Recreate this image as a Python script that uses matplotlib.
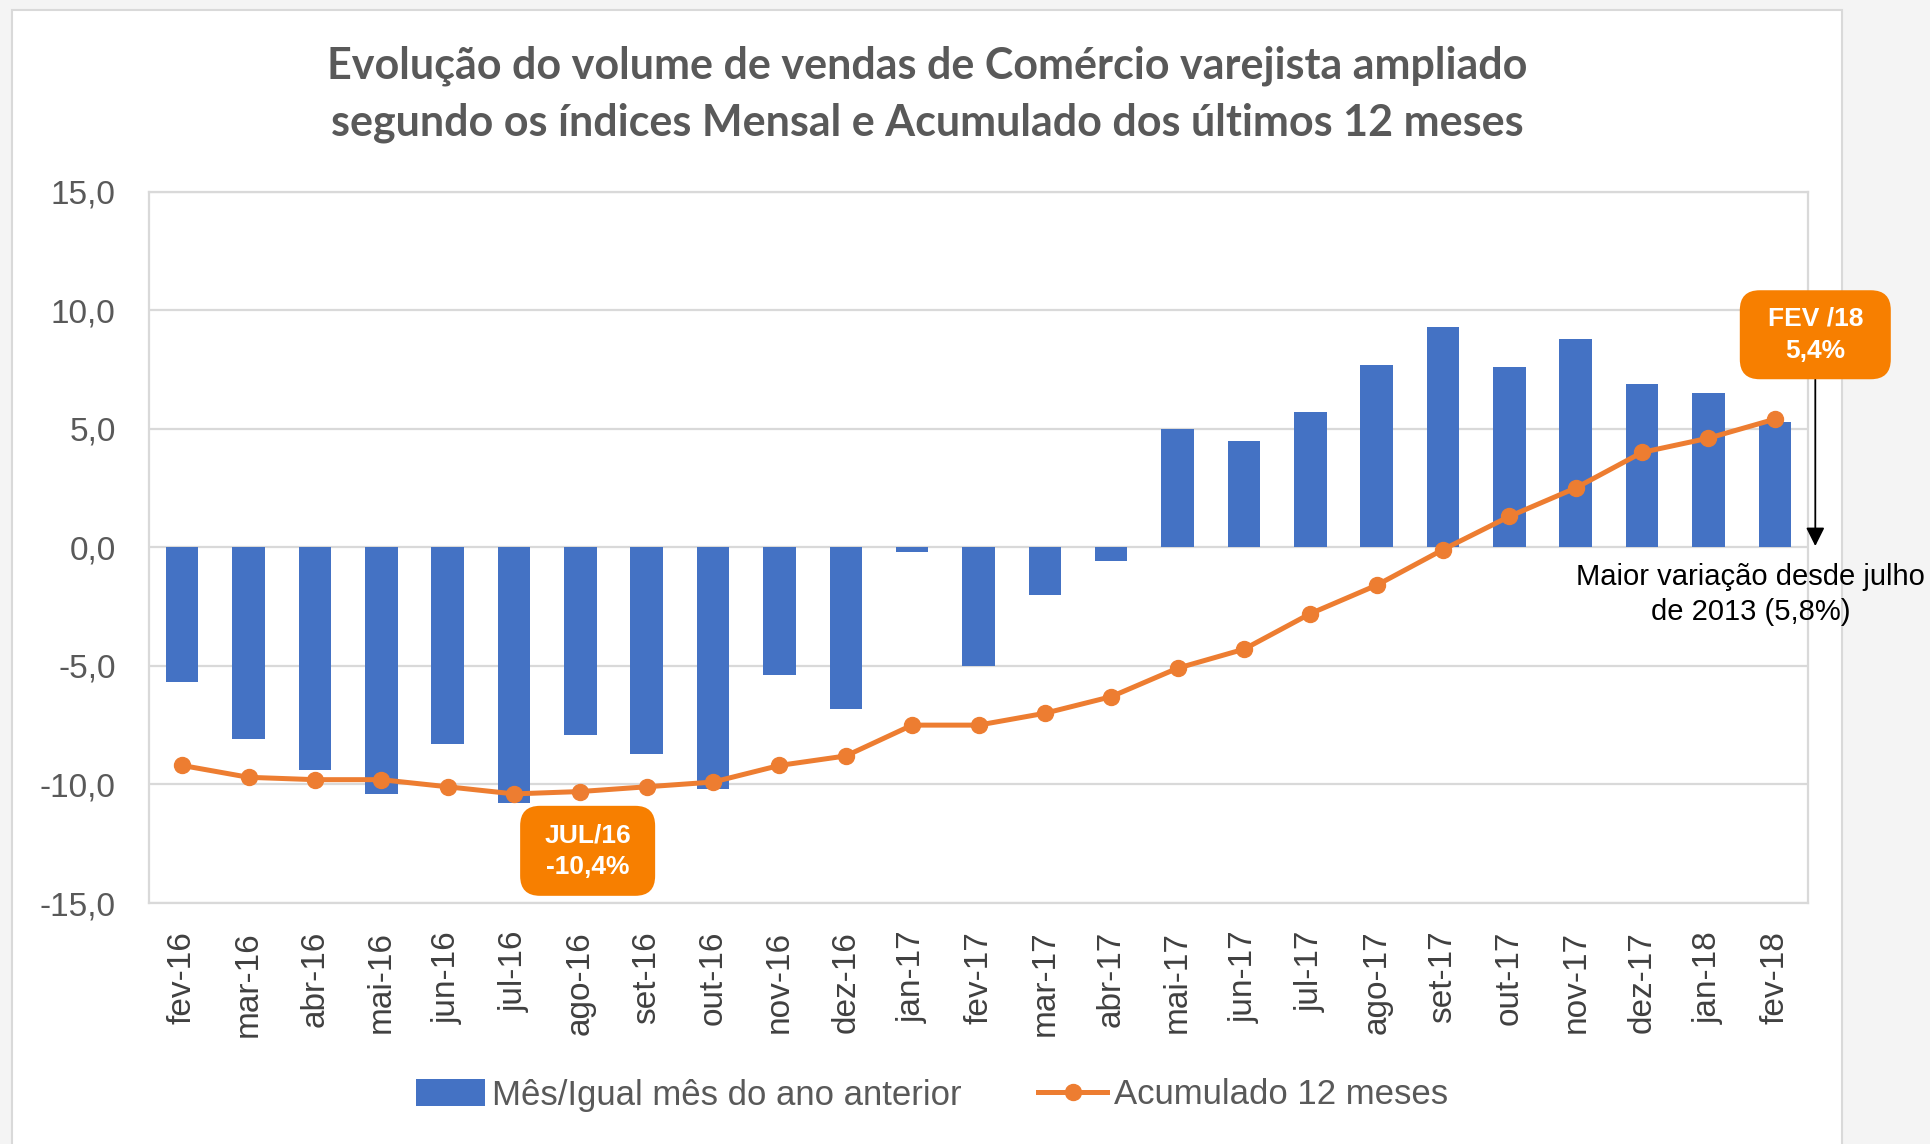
import matplotlib
matplotlib.use("Agg")
import matplotlib.pyplot as plt
from matplotlib.patches import Rectangle, FancyBboxPatch
import numpy as np

plt.rcParams['font.family'] = ['Liberation Sans', 'DejaVu Sans']

# dados
meses = ["fev-16", "mar-16", "abr-16", "mai-16", "jun-16", "jul-16", "ago-16",
         "set-16", "out-16", "nov-16", "dez-16", "jan-17", "fev-17", "mar-17",
         "abr-17", "mai-17", "jun-17", "jul-17", "ago-17", "set-17", "out-17",
         "nov-17", "dez-17", "jan-18", "fev-18"]
mensal = [-5.7, -8.1, -9.4, -10.4, -8.3, -10.8, -7.9, -8.7, -10.2, -5.4, -6.8,
          -0.2, -5.0, -2.0, -0.6, 5.0, 4.5, 5.7, 7.7, 9.3, 7.6, 8.8, 6.9, 6.5, 5.3]
acumulado = [-9.2, -9.7, -9.8, -9.8, -10.1, -10.4, -10.3, -10.1, -9.9, -9.2, -8.8,
             -7.5, -7.5, -7.0, -6.3, -5.1, -4.3, -2.8, -1.6, -0.1, 1.3, 2.5, 4.0,
             4.6, 5.4]
yticks = [-15, -10, -5, 0, 5, 10, 15]

titulo = ("Evolução do volume de vendas de Comércio varejista ampliado\n"
          "segundo os índices Mensal e Acumulado dos últimos 12 meses")

W, H = 1931, 1144
fig = plt.figure(figsize=(W / 100, H / 100), dpi=100)
fig.patch.set_facecolor('#f4f4f4')
fig.add_artist(Rectangle((12 / W, -0.01), (1842 - 12) / W, 1 - 10 / H + 0.01,
                         transform=fig.transFigure, facecolor='white',
                         edgecolor='#d9d9d9', lw=1.5, zorder=0))

ax_l, ax_r, ax_t, ax_b = 149, 1808, 191.5, 903
ax = fig.add_axes([ax_l / W, 1 - ax_b / H, (ax_r - ax_l) / W, (ax_b - ax_t) / H])

x = np.arange(len(meses))
barras = ax.bar(x, mensal, width=0.49, color='#4472C4', zorder=2)
linha, = ax.plot(x, acumulado, color='#ED7D31', lw=3.6, marker='o', ms=11.5,
                 zorder=3)

ax.set_xlim(-0.5, len(meses) - 0.5)
ax.set_ylim(-15, 15)
ax.set_yticks(yticks)
ax.set_yticklabels([f"{v:.1f}".replace('.', ',') for v in yticks])
ax.set_xticks(x)
ax.set_xticklabels(meses, rotation=90)
ax.tick_params(axis='y', length=0, pad=24, labelsize=24, labelcolor='#595959')
ax.tick_params(axis='x', length=0, pad=20, labelsize=24, labelcolor='#404040')
ax.grid(axis='y', color='#d9d9d9', lw=1.6, zorder=0)
for s in ax.spines.values():
    s.set_color('#d9d9d9')
    s.set_linewidth(1.6)

fig.text(927 / W, 1 - 94 / H, titulo, ha='center', va='center', fontsize=31,
         fontweight='bold', color='#595959', family=['Lato', 'DejaVu Sans'],
         linespacing=1.5)

# caixas de destaque (tamanho em pixels convertido para dados)
px_x = (ax_r - ax_l) / 25.0
px_y = (ax_b - ax_t) / 30.0
aspect = px_x / px_y


def caixa(cx, cy, wpx, hpx, texto):
    w, h = wpx / px_x, hpx / px_y
    ax.add_patch(FancyBboxPatch((cx - w / 2, cy - h / 2), w, h,
                                boxstyle="round,pad=0,rounding_size=0.3",
                                mutation_aspect=aspect, facecolor='#F77F00',
                                edgecolor='none', zorder=5, clip_on=False))
    ax.text(cx, cy, texto, ha='center', va='center', color='white',
            fontsize=19, fontweight='bold', linespacing=1.4, zorder=6,
            clip_on=False)


caixa(6.11, -12.8, 135, 90, "JUL/16\n-10,4%")
caixa(24.61, 8.96, 151, 89, "FEV /18\n5,4%")

ax.annotate("", xy=(24.61, 0.05), xytext=(24.61, 7.08),
            arrowprops=dict(arrowstyle='-|>', color='black', lw=1.3,
                            mutation_scale=28, shrinkA=0, shrinkB=0),
            annotation_clip=False, zorder=4)
ax.text(23.63, -2.0, "Maior variação desde julho\nde 2013 (5,8%)", ha='center',
        va='center', fontsize=21, color='black', linespacing=1.3, clip_on=False)

fig.legend([barras, linha], ['Mês/Igual mês do ano anterior', 'Acumulado 12 meses'],
           loc='center', bbox_to_anchor=(932 / W, 1 - 1095 / H), ncol=2,
           frameon=False, fontsize=25, handlelength=2.0, handleheight=0.85,
           handletextpad=0.2, columnspacing=2.2, labelcolor='#595959')

fig.savefig("out.png", dpi=100, facecolor=fig.get_facecolor())
